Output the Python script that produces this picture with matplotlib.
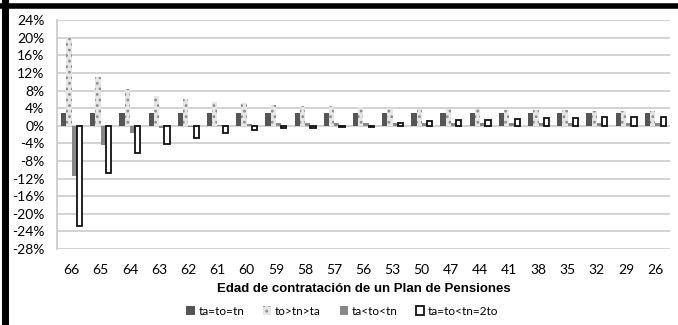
import matplotlib.pyplot as plt
import numpy as np
from matplotlib.lines import Line2D
from matplotlib.ticker import FuncFormatter, MultipleLocator

# edades de contratacion y diferencias (%) por escenario
edades = ["66", "65", "64", "63", "62", "61", "60", "59", "58", "57", "56",
          "53", "50", "47", "44", "41", "38", "35", "32", "29", "26"]
s_igual = [2.8, 2.8, 2.8, 2.8, 2.8, 2.8, 2.8, 2.8, 2.8, 2.8, 2.8,
           2.8, 2.8, 2.8, 2.8, 2.8, 2.8, 2.8, 2.8, 2.8, 2.8]
s_to_tn_ta = [19.9, 11.0, 8.3, 6.8, 6.0, 5.4, 5.1, 4.8, 4.6, 4.4, 4.2,
              4.0, 3.9, 3.8, 3.7, 3.6, 3.5, 3.5, 3.4, 3.4, 3.4]
s_ta_to_tn = [-11.5, -4.3, -1.7, -0.6, -0.3, 0.2, 0.4, 0.6, 0.6, 0.6, 0.6,
              0.6, 0.6, 0.6, 0.6, 0.6, 0.6, 0.6, 0.6, 0.6, 0.6]
s_2to = [-22.7, -10.7, -6.2, -4.1, -2.7, -1.7, -1.0, -0.6, -0.4, -0.3, -0.3,
         0.7, 1.0, 1.2, 1.4, 1.5, 1.7, 1.8, 1.9, 2.0, 2.1]
series_names = ["ta=to=tn", "to>tn>ta", "ta<to<tn", "ta=to<tn=2to"]

plt.rcParams["hatch.linewidth"] = 1.2

fig = plt.figure(figsize=(6.78, 3.25), dpi=100)
ax = fig.add_axes([0.084, 0.234, 0.904, 0.704])

x = np.arange(len(edades))
w = 0.18
offs = [-1.5 * w, -0.5 * w, 0.5 * w, 1.5 * w]

ax.bar(x + offs[0], s_igual, w, color="#555555", label=series_names[0], zorder=3)
ax.bar(x + offs[1], s_to_tn_ta, w, color="#e6e6e6", edgecolor="#8c8c8c",
       hatch="...", linewidth=0.0, label=series_names[1], zorder=3)
ax.bar(x + offs[2], s_ta_to_tn, w, color="#888888", label=series_names[2], zorder=3)
ax.bar(x + offs[3], s_2to, w, color="white", edgecolor="#111111",
       linewidth=1.3, label=series_names[3], zorder=3)

ax.set_xlim(-0.5, len(edades) - 0.5)
ax.set_ylim(-28, 24)
ax.yaxis.set_major_locator(MultipleLocator(4))
ax.yaxis.set_major_formatter(FuncFormatter(lambda v, p: f"{v:.0f}%"))
ax.grid(axis="y", color="#d2d2d2", linewidth=1.4, zorder=0)
ax.set_xticks(x)
ax.set_xticklabels(edades, fontfamily="Lato", fontsize=10)
for lab in ax.get_yticklabels():
    lab.set_fontfamily("Lato")
    lab.set_fontsize(10)
ax.tick_params(axis="x", length=0, pad=11)
ax.tick_params(axis="y", length=0, pad=9)

for side in ["top", "right", "bottom"]:
    ax.spines[side].set_visible(False)
ax.spines["left"].set_color("#c8c8c8")
ax.spines["left"].set_linewidth(1.2)

ax.set_xlabel("Edad de contratación de un Plan de Pensiones",
              fontfamily="Liberation Sans", fontweight="bold", fontsize=9.5,
              labelpad=5)

fig.legend(loc="center", bbox_to_anchor=(0.505, 0.043), ncol=4, frameon=False,
           prop={"family": "Lato", "size": 8.5}, handlelength=0.7,
           handleheight=0.7, handletextpad=0.3, columnspacing=1.6)

# marco negro superior e izquierdo
fig.add_artist(Line2D([0, 1], [0.983, 0.983], color="black", linewidth=4,
                      transform=fig.transFigure))
fig.add_artist(Line2D([0.007, 0.007], [0, 0.99], color="black", linewidth=5,
                      transform=fig.transFigure))

fig.savefig("out.png", dpi=100)
